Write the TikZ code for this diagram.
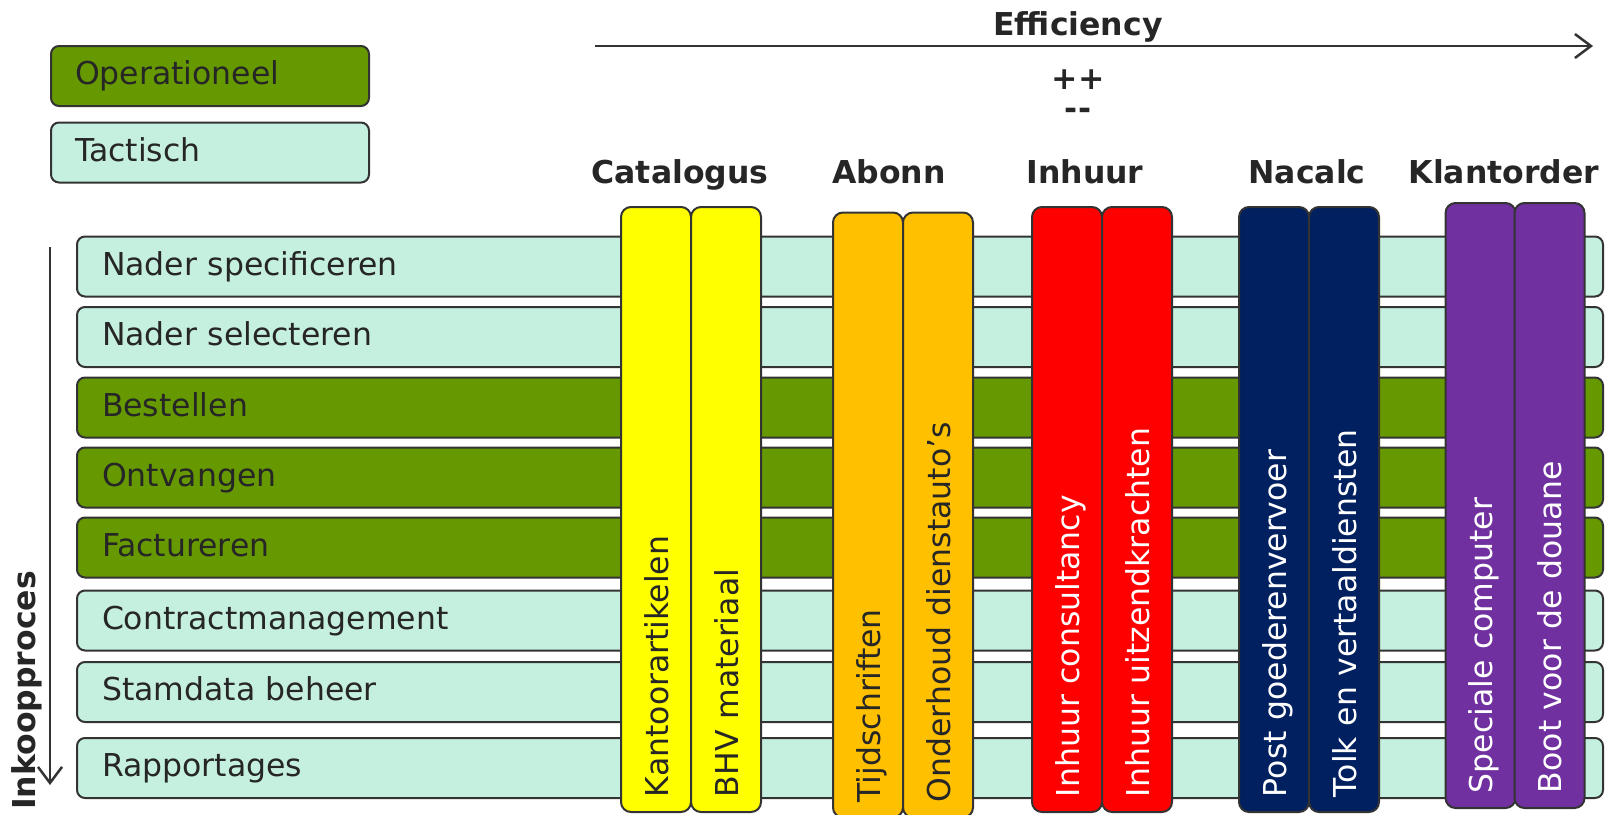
\documentclass[tikz,border=0pt]{standalone}
\usepackage{fontspec}
\setmainfont{DejaVu Sans}
\usetikzlibrary{arrows.meta}

\definecolor{operc}{HTML}{669900}
\definecolor{tactc}{HTML}{C5EFDE}
\definecolor{linec}{HTML}{333333}
\definecolor{textc}{HTML}{262626}
\definecolor{catc}{HTML}{FFFF00}
\definecolor{abonc}{HTML}{FFC000}
\definecolor{inhc}{HTML}{FF0000}
\definecolor{nacc}{HTML}{002060}
\definecolor{klantc}{HTML}{7030A0}

\begin{document}
\begin{tikzpicture}[x=1pt, y=-1pt,
    every node/.style={font=\fontsize{31.5}{37}\selectfont, text=textc},
    box/.style={draw=linec, line width=2pt, rounded corners=8pt, align=left,
      inner ysep=0pt, text height=23.6pt, text depth=6.5pt},
    legend/.style={box, minimum height=60pt, inner xsep=24pt, text width=270pt},
    row/.style={box, minimum height=60pt, inner xsep=25pt, text width=1476pt},
    col/.style={box, rotate=90, rounded corners=10pt, minimum height=70pt,
      inner xsep=15pt, text width=575pt, text height=27.3pt, text depth=3.1pt},
    head/.style={font=\fontsize{31.5}{37}\selectfont\bfseries, anchor=base},
    arr/.style={draw=linec, line width=2.5pt, -{Straight Barb[length=16pt,width=24pt]}}]
  \useasboundingbox (0,0) rectangle (1608,814);

  % legenda
  \node[legend, fill=operc] (oper) at (210,76) {Operationeel};
  \node[legend, fill=tactc] (tact) at (210,152.5) {Tactisch};

  % efficiency as
  \coordinate (effL) at (595,46);
  \coordinate (effR) at (1593,46);
  \draw[arr] (effL) -- (effR);
  \node[head] (eff) at (1078,35) {Efficiency};
  \node[head] (plus) at (1078,89) {++};
  \node[head] (min) at (1078,119) {{-}{-}};

  % inkoopproces
  \node[head, rotate=90, anchor=base west, inner sep=0pt] (proc) at (35,810) {Inkoopproces};
  \coordinate (procT) at (50,247);
  \coordinate (procB) at (50,785);
  \draw[arr] (procT) -- (procB);

  % stappen
  \node[row, fill=tactc] (spec) at (840,266.5) {Nader specificeren};
  \node[row, fill=tactc] (sel) at (840,337) {Nader selecteren};
  \node[row, fill=operc] (best) at (840,407.5) {Bestellen};
  \node[row, fill=operc] (ontv) at (840,477.5) {Ontvangen};
  \node[row, fill=operc] (fact) at (840,547.5) {Factureren};
  \node[row, fill=tactc] (contr) at (840,620.5) {Contractmanagement};
  \node[row, fill=tactc] (stam) at (840,692) {Stamdata beheer};
  \node[row, fill=tactc] (rapp) at (840,768) {Rapportages};

  % kolommen
  \node[head] (cat) at (680,183) {Catalogus};
  \node[col, fill=catc] (kant) at (656,509.5) {Kantoorartikelen};
  \node[col, fill=catc] (bhv) at (726,509.5) {BHV materiaal};
  \node[head] (abon) at (889,183) {Abonn};
  \node[col, fill=abonc] (tijd) at (868,515) {Tijdschriften};
  \node[col, fill=abonc] (ond) at (938,515) {Onderhoud dienstauto’s};
  \node[head] (inh) at (1085,183) {Inhuur};
  \node[col, fill=inhc, text=white] (cons) at (1067,509.5) {Inhuur consultancy};
  \node[col, fill=inhc, text=white] (uitz) at (1137,509.5) {Inhuur uitzendkrachten};
  \node[head] (nac) at (1307,183) {Nacalc};
  \node[col, fill=nacc, text=white] (post) at (1274,509.5) {Post goederenvervoer};
  \node[col, fill=nacc, text=white] (tolk) at (1344,509.5) {Tolk en vertaaldiensten};
  \node[head] (klant) at (1504,183) {Klantorder};
  \node[col, fill=klantc, text=white] (comp) at (1480.5,505.5) {Speciale computer};
  \node[col, fill=klantc, text=white] (boot) at (1549.5,505.5) {Boot voor de douane};
\end{tikzpicture}
\end{document}
